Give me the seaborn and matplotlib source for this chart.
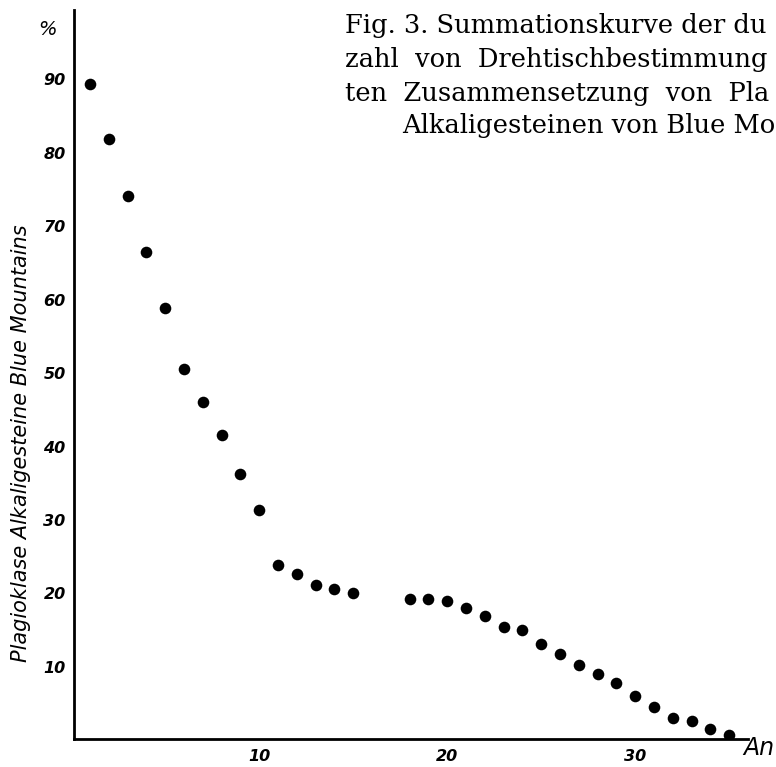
"""
Summationskurve Plagioklase, Alkaligesteine Blue Mountains (Fig. 3)
"""

import pandas as pd
import matplotlib
matplotlib.use("Agg")
import matplotlib.pyplot as plt
import seaborn as sns


# An-Gehalt (x) und kumulierter Prozentsatz (y)
an_content = [1, 2, 3, 4, 5, 6, 7, 8, 9, 10, 11, 12, 13, 14, 15,
              18, 19, 20, 21, 22, 23, 24, 25, 26, 27, 28, 29, 30,
              31, 32, 33, 34, 35]
percent = [89.3, 81.9, 74.1, 66.4, 58.8, 50.6, 46.0, 41.5, 36.2, 31.3,
           23.9, 22.7, 21.1, 20.6, 20.1,
           19.3, 19.3, 19.0, 18.0, 16.9, 15.5, 15.1, 13.1, 11.7, 10.3,
           9.0, 7.8, 6.0, 4.6, 3.1, 2.7, 1.5, 0.8]

x_ticks = [10, 20, 30]
y_ticks = [10, 20, 30, 40, 50, 60, 70, 80, 90]

# Bildunterschrift, im Original am rechten Rand abgeschnitten
caption_lines = [
    "Fig. 3. Summationskurve der du",
    "zahl  von  Drehtischbestimmung",
    "ten  Zusammensetzung  von  Pla",
    "Alkaligesteinen von Blue Mo",
]


def plot_curve():
    df = pd.DataFrame({"An": an_content, "Prozent": percent})

    sns.set_style("white")
    plt.rcParams["font.family"] = ["DejaVu Sans"]
    plt.rcParams["text.color"] = "black"
    plt.rcParams["xtick.color"] = "black"
    plt.rcParams["ytick.color"] = "black"

    fig = plt.figure(figsize=(7.76, 7.67), dpi=100)
    ax = fig.add_axes([0.0954, 0.0365, 0.8686, 0.9505])

    sns.scatterplot(data=df, x="An", y="Prozent", ax=ax,
                    color="black", s=70, edgecolor="black", linewidth=0)

    ax.set_xlim(0.15, 36.0)
    ax.set_ylim(0.2, 99.4)
    ax.set_xticks(x_ticks)
    ax.set_yticks(y_ticks)
    ax.set_xticklabels([str(t) for t in x_ticks], fontstyle="italic",
                       fontsize=11.5, fontweight="semibold")
    ax.set_yticklabels([str(t) for t in y_ticks], fontstyle="italic",
                       fontsize=11.5, fontweight="semibold")
    ax.tick_params(axis="y", direction="out", length=4, width=1.2, pad=2)
    ax.tick_params(axis="x", direction="inout", length=5, width=1.2, pad=5)
    ax.set_xlabel("")
    ax.set_ylabel("")

    for side in ["top", "right"]:
        ax.spines[side].set_visible(False)
    for side in ["left", "bottom"]:
        ax.spines[side].set_linewidth(2)
        ax.spines[side].set_color("black")

    fig.text(0.027, 0.422, "Plagioklase Alkaligesteine Blue Mountains",
             rotation=90, fontstyle="italic", fontsize=15,
             ha="center", va="center")
    fig.text(0.061, 0.961, "%", fontstyle="italic", fontsize=14,
             ha="center", va="center")
    fig.text(0.958, 0.025, "An", fontstyle="italic", fontsize=17,
             ha="left", va="center")

    x_starts = [345, 345, 345, 402]
    y_centers = [26, 60, 93, 126]
    for line, x0, yc in zip(caption_lines, x_starts, y_centers):
        fig.text(x0 / 776, 1 - yc / 767, line, family="DejaVu Serif",
                 fontsize=18.5, ha="left", va="center")

    fig.savefig("out.png", dpi=100)
    plt.close(fig)


if __name__ == "__main__":
    plot_curve()
